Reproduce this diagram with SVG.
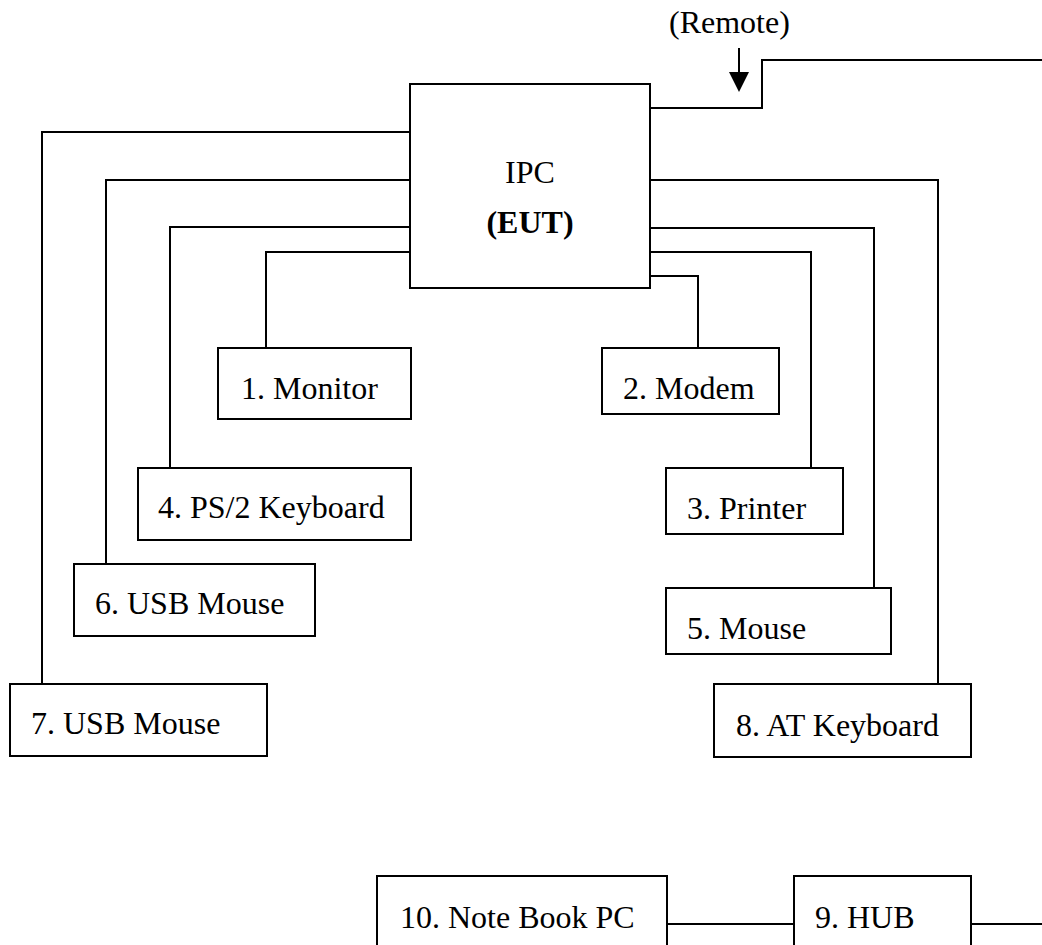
<svg xmlns="http://www.w3.org/2000/svg" width="1042" height="945" viewBox="0 0 1042 945">
<style>
.box{fill:#fff;stroke:#000;stroke-width:2}
.ln{fill:none;stroke:#000;stroke-width:2}
text{font-family:"Liberation Serif","Times New Roman",serif;font-size:32px;fill:#000}
.b{font-weight:bold}
</style>
<rect width="1042" height="945" fill="#fff"/>
<g id="connectors">
<path class="ln" d="M410,132 H42 V684"/>
<path class="ln" d="M410,180 H106 V564"/>
<path class="ln" d="M410,227 H170 V468"/>
<path class="ln" d="M410,252 H266 V348"/>
<path class="ln" d="M650,276 H698 V348"/>
<path class="ln" d="M650,252 H811 V468"/>
<path class="ln" d="M650,228 H874 V588"/>
<path class="ln" d="M650,180 H938 V684"/>
<path class="ln" d="M650,108 H762 V60 H1042"/>
<path class="ln" d="M667,924 H794"/>
<path class="ln" d="M971,924 H1042"/>
<line class="ln" x1="739" y1="48" x2="739" y2="74"/>
<polygon points="729,72 749,72 739,92" fill="#000"/>
</g>
<g id="remote-label"><text x="669" y="33">(Remote)</text></g>
<g id="ipc">
<rect class="box" x="410" y="84" width="240" height="204"/>
<text x="530" y="183" text-anchor="middle">IPC</text>
<text class="b" x="530" y="233" text-anchor="middle">(EUT)</text>
</g>
<g id="monitor"><rect class="box" x="218" y="348" width="193" height="71"/><text x="241" y="399">1. Monitor</text></g>
<g id="modem"><rect class="box" x="602" y="348" width="177" height="66"/><text x="623" y="399">2. Modem</text></g>
<g id="printer"><rect class="box" x="666" y="468" width="177" height="66"/><text x="687" y="519">3. Printer</text></g>
<g id="ps2kb"><rect class="box" x="138" y="468" width="273" height="72"/><text x="158" y="518">4. PS/2 Keyboard</text></g>
<g id="mouse5"><rect class="box" x="666" y="588" width="225" height="66"/><text x="687" y="639">5. Mouse</text></g>
<g id="usbmouse6"><rect class="box" x="74" y="564" width="241" height="72"/><text x="95" y="614">6. USB Mouse</text></g>
<g id="usbmouse7"><rect class="box" x="10" y="684" width="257" height="72"/><text x="31" y="734">7. USB Mouse</text></g>
<g id="atkb"><rect class="box" x="714" y="684" width="257" height="73"/><text x="736" y="736">8. AT Keyboard</text></g>
<g id="hub"><rect class="box" x="794" y="876" width="177" height="80"/><text x="815" y="928">9. HUB</text></g>
<g id="notebook"><rect class="box" x="377" y="876" width="290" height="80"/><text x="400" y="928">10. Note Book PC</text></g>
</svg>
